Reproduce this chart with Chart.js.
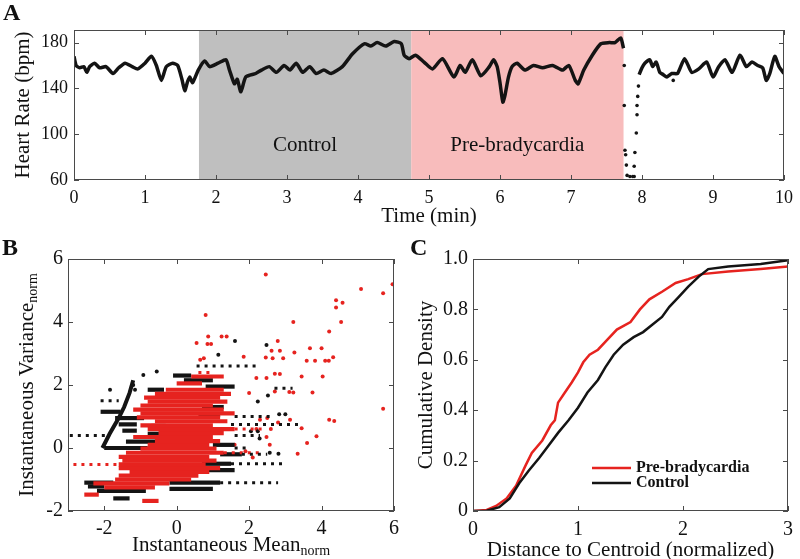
<!DOCTYPE html>
<html>
<head>
<meta charset="utf-8">
<script src="https://cdn.jsdelivr.net/npm/chart.js@4/dist/chart.umd.min.js"></script>
<style>
  body { margin: 0; background: #fff; }
  #wrap { position: relative; width: 800px; height: 559px; overflow: hidden; font-family: "Liberation Serif", serif; }
  canvas { position: absolute; }
  .tag { position: absolute; font: bold 24px/1 "Liberation Serif", serif; color: #111; }
</style>
</head>
<body>
<div id="wrap">
  <canvas id="hr-chart" style="left:0px;top:0px" width="800" height="230"></canvas>
  <canvas id="scatter-chart" style="left:0px;top:235px" width="405" height="324"></canvas>
  <canvas id="cdf-chart" style="left:400px;top:235px" width="400" height="324"></canvas>
  <div class="tag" style="left:3px;top:0px">A</div>
  <div class="tag" style="left:2px;top:235px">B</div>
  <div class="tag" style="left:410px;top:235px">C</div>
</div>
<script>
// ---- panel A: heart rate over time
const hrTime = [0.00, 0.03, 0.08, 0.14, 0.18, 0.22, 0.29, 0.36, 0.45, 0.55, 0.63, 0.72, 0.82, 0.90, 1.00,
  1.09, 1.16, 1.23, 1.30, 1.39, 1.46, 1.52, 1.56, 1.60, 1.63, 1.67, 1.75, 1.84, 1.91, 2.03, 2.14, 2.19,
  2.26, 2.30, 2.35, 2.42, 2.56, 2.64, 2.75, 2.85, 2.96, 3.04, 3.13, 3.22, 3.32, 3.41, 3.52, 3.62, 3.78,
  3.92, 4.09, 4.18, 4.27, 4.39, 4.51, 4.61, 4.65, 4.72, 4.81, 4.93, 5.05, 5.19, 5.35, 5.44, 5.51, 5.61,
  5.73, 5.85, 5.91, 5.96, 6.00, 6.04, 6.07, 6.12, 6.17, 6.24, 6.35, 6.47, 6.60, 6.74, 6.88, 6.97, 7.06,
  7.10, 7.18, 7.30, 7.42, 7.54, 7.62, 7.70, 7.74]
const hrBpm = [168, 160, 158, 159, 154, 159, 162, 158, 159, 153, 158, 162, 159, 157, 162,
  168, 160, 147, 159, 162, 160, 148, 138, 146, 150, 145, 156, 164, 159, 162, 165, 156,
  144, 148, 137, 150, 153, 156, 159, 154, 160, 156, 162, 154, 159, 153, 156, 153, 159,
  170, 179, 177, 180, 177, 181, 179, 169, 166, 169, 163, 157, 166, 150, 160, 154, 165,
  151, 159, 165, 159, 145, 128, 134, 150, 159, 162, 156, 160, 158, 160, 156, 160, 147,
  144, 156, 169, 179, 180, 180, 184, 175]
const hrTimeAfter = [7.96, 8.00, 8.04, 8.11, 8.15, 8.20, 8.25, 8.30, 8.35, 8.42, 8.50, 8.60, 8.70, 8.80,
  8.91, 9.00, 9.08, 9.17, 9.27, 9.38, 9.47, 9.55, 9.63, 9.70, 9.75, 9.80, 9.87, 9.93, 10.00]
const hrBpmAfter = [152, 158, 162, 165, 159, 163, 154, 152, 150, 153, 153, 166, 154, 157,
  163, 150, 159, 165, 154, 169, 159, 163, 160, 158, 147, 153, 168, 159, 153]
const dropTime = [7.75, 7.75, 7.76, 7.77, 7.78, 7.79, 7.83, 7.87, 7.89, 7.89, 7.90, 7.92, 7.93, 7.93, 7.94, 7.95, 8.44]
const dropBpm = [160, 125, 86, 82, 73, 64, 63, 63, 63, 72, 84, 101, 117, 125, 133, 142, 147]
const regionStart = [1.76, 4.75]
const regionEnd = [4.75, 7.74]
const regionNames = ['Control', 'Pre-bradycardia']
const hrTicksX = [0, 1, 2, 3, 4, 5, 6, 7, 8, 9, 10]
const hrTicksY = [60, 100, 140, 180]

// ---- panel B: instantaneous mean vs variance, streaks as [y, xFrom, xTo]
const redRows = [[1.85, -0.3, 1.3], [1.72, -0.6, 1.5], [1.6, -0.9, 1.2], [1.47, -0.8, 1.4], [1.35, -1.0, 1.0],
  [1.22, -1.2, 1.3], [1.1, -1.0, 1.6], [0.97, -1.1, 1.2], [0.85, -0.6, 1.4], [0.72, -1.0, 1.0],
  [0.6, -0.8, 1.6], [0.47, -0.5, 1.3], [0.35, -1.2, 1.0], [0.22, -0.6, 1.2], [0.1, -0.8, 0.9],
  [-0.02, -1.0, 1.1], [-0.15, -1.4, 1.3], [-0.28, -1.6, 0.9], [-0.4, -1.5, 1.1], [-0.52, -1.6, 0.8],
  [-0.64, -1.6, 1.2], [-0.76, -1.3, 0.9], [-0.88, -1.6, 0.6], [-1.0, -1.7, 0.4], [-1.12, -2.3, -0.2],
  [-1.25, -2.0, -0.6], [-1.48, -2.55, -2.15], [-1.68, -0.95, -0.5], [2.05, 0.0, 0.7], [2.27, 0.4, 1.3]]
const redDotRows = [[-0.52, -2.85, -1.6], [2.4, 0.6, 1.0], [0.6, 1.6, 2.4], [-0.15, 1.3, 2.3]]
const blackRows = [[0.0, -2.0, -0.8], [0.2, -1.4, -0.5], [0.45, -0.8, -0.2], [0.7, -0.7, -0.3],
  [0.95, -1.7, -0.9], [1.15, -2.1, -1.55], [0.75, -1.6, -1.1], [0.55, -1.5, -1.1], [1.05, 0.6, 1.2],
  [1.3, 0.7, 1.3], [1.85, -0.8, -0.35], [1.95, 0.8, 1.6], [2.3, -0.1, 0.4], [2.15, 0.2, 1.0],
  [-1.1, -2.55, -1.75], [-1.22, -2.45, -2.0], [-1.36, -2.2, -0.85], [-1.6, -1.75, -1.3],
  [-1.1, -0.2, 1.2], [-1.3, -0.2, 1.0], [-0.5, 0.7, 1.5], [-0.7, 0.6, 1.6], [-0.2, 1.2, 1.8], [0.1, 1.0, 1.6]]
const blackDotRows = [[0.4, -2.95, -1.85], [2.6, 0.55, 2.3], [-0.5, 1.5, 2.95], [-1.1, 1.2, 2.8],
  [0.75, 1.5, 3.4], [1.0, 1.6, 2.6], [1.9, 2.7, 3.2], [-0.2, 1.8, 2.5], [0.4, 1.6, 2.3],
  [1.5, -2.1, -1.6], [0.0, 1.6, 2.0]]
const ridgeX = [-2.05, -1.85, -1.6, -1.45, -1.3, -1.2]
const ridgeY = [0.0, 0.45, 0.95, 1.3, 1.75, 2.15]
const blackDots = [[1.61, 3.4], [1.15, 2.96], [2.48, 3.27], [-1.84, 1.85], [-0.92, 2.32], [-0.55, 2.43],
  [2.52, 1.67], [2.24, 1.48], [2.83, 1.07], [3.0, 1.07], [2.81, -0.18], [2.57, -0.15], [2.29, 0.3],
  [2.05, 0.53], [2.24, 0.53], [-1.2, 2.0], [-1.15, 1.85]]
const redDots = [[0.8, 4.22], [2.46, 5.51], [5.09, 5.05], [5.7, 4.91], [5.96, 5.2], [4.4, 4.69], [4.58, 4.61],
  [4.4, 4.46], [3.22, 4.0], [4.21, 3.7], [4.54, 4.0], [5.7, 1.25], [0.87, 3.54], [1.24, 3.54], [1.38, 3.54],
  [0.85, 3.3], [0.55, 3.33], [0.95, 3.3], [2.79, 3.4], [2.85, 3.09], [2.62, 3.09], [2.94, 2.85], [3.25, 3.03],
  [3.68, 3.17], [4.0, 3.17], [3.59, 2.77], [3.82, 2.77], [4.1, 2.77], [4.2, 2.77], [4.32, 2.88], [2.65, 2.85],
  [2.85, 2.35], [2.46, 2.87], [3.45, 2.27], [4.03, 2.27], [3.22, 1.76], [3.75, 1.76], [2.2, 2.22], [2.48, 2.22],
  [3.13, 0.9], [3.45, 0.63], [3.86, 0.37], [3.6, 0.16], [3.34, -0.18], [4.21, 0.9], [4.35, 0.86], [2.2, 0.6],
  [2.48, 0.35], [2.8, 0.81], [1.6, 0.1], [0.65, 2.8], [0.75, 2.85], [1.85, 2.9], [2.0, 1.75], [2.3, 0.9],
  [2.6, 0.6], [1.9, -0.1], [2.1, -0.3], [2.5, 0.95], [2.71, 1.79], [3.11, 1.78], [2.71, 2.36], [2.57, 0.1]]
const scatterTicksX = [-2, 0, 2, 4, 6]
const scatterTicksY = [-2, 0, 2, 4, 6]

// ---- panel C: cumulative density of distance to centroid
const preX = [0, 0.13, 0.22, 0.32, 0.41, 0.5, 0.56, 0.66, 0.74, 0.78, 0.81, 0.875, 0.94, 1.0, 1.05, 1.11,
  1.19, 1.28, 1.37, 1.5, 1.59, 1.68, 1.8, 1.93, 2.05, 2.18, 2.43, 2.74, 3.0]
const preY = [0, 0.004, 0.02, 0.05, 0.10, 0.18, 0.23, 0.28, 0.34, 0.36, 0.43, 0.47, 0.51, 0.55, 0.59, 0.62,
  0.64, 0.68, 0.72, 0.75, 0.80, 0.84, 0.87, 0.905, 0.92, 0.94, 0.95, 0.96, 0.97]
const ctlX = [0, 0.13, 0.25, 0.35, 0.44, 0.53, 0.63, 0.72, 0.81, 0.91, 1.0, 1.09, 1.19, 1.26, 1.34, 1.43,
  1.53, 1.62, 1.71, 1.8, 1.87, 1.96, 2.05, 2.15, 2.24, 2.43, 2.74, 3.0]
const ctlY = [0, 0.001, 0.015, 0.05, 0.11, 0.16, 0.21, 0.26, 0.31, 0.36, 0.41, 0.47, 0.52, 0.57, 0.62, 0.66,
  0.69, 0.71, 0.74, 0.77, 0.81, 0.85, 0.89, 0.93, 0.96, 0.97, 0.98, 0.995]
const cdfTicksX = [0, 1, 2, 3]
const cdfTicksY = [0, 0.2, 0.4, 0.6, 0.8, 1.0]

const SERIF = '"Liberation Serif", serif'
const RED = '#e6231f'
const BLACK = '#141414'

const zip = (xs, ys) => xs.map((x, i) => ({ x, y: ys[i] }))

// box round the plot with short inward ticks on all four sides
const frame = {
  id: 'frame',
  afterDatasetsDraw(chart) {
    const { ctx, chartArea: a, scales: { x, y } } = chart
    ctx.save()
    ctx.strokeStyle = '#4a4a4a'
    ctx.lineWidth = 1
    ctx.strokeRect(a.left + 0.5, a.top + 0.5, a.width - 1, a.height - 1)
    ctx.beginPath()
    x.ticks.forEach(t => {
      const px = Math.round(x.getPixelForValue(t.value)) + 0.5
      ctx.moveTo(px, a.bottom); ctx.lineTo(px, a.bottom - 5)
      ctx.moveTo(px, a.top); ctx.lineTo(px, a.top + 5)
    })
    y.ticks.forEach(t => {
      const py = Math.round(y.getPixelForValue(t.value)) + 0.5
      ctx.moveTo(a.left, py); ctx.lineTo(a.left + 5, py)
      ctx.moveTo(a.right, py); ctx.lineTo(a.right - 5, py)
    })
    ctx.stroke()
    ctx.restore()
  }
}

function drawLabel(ctx, text, sub, cx, cy, rot) {
  ctx.save()
  ctx.translate(cx, cy)
  ctx.rotate(rot)
  ctx.font = '21px ' + SERIF
  const w1 = ctx.measureText(text).width
  ctx.font = '14px ' + SERIF
  const w2 = sub ? ctx.measureText(sub).width : 0
  const left = -(w1 + w2) / 2
  ctx.fillStyle = '#111'
  ctx.textAlign = 'left'
  ctx.textBaseline = 'middle'
  ctx.font = '21px ' + SERIF
  ctx.fillText(text, left, 0)
  if (sub) {
    ctx.font = '14px ' + SERIF
    ctx.fillText(sub, left + w1, 6)
  }
  ctx.restore()
}

// axis titles (canvas titles cannot do subscripts)
const titles = {
  id: 'titles',
  afterDraw(chart, args, o) {
    const { ctx, chartArea: a } = chart
    drawLabel(ctx, o.x, o.xSub, (a.left + a.right) / 2, a.bottom + o.xGap, 0)
    drawLabel(ctx, o.y, o.ySub, a.left - o.yGap, (a.top + a.bottom) / 2, -Math.PI / 2)
  }
}

const regionColors = ['#bfbfbf', '#f8bcbc']
const shading = {
  id: 'shading',
  beforeDatasetsDraw(chart) {
    const { ctx, chartArea: a, scales: { x, y } } = chart
    ctx.save()
    regionStart.forEach((s, i) => {
      const x0 = x.getPixelForValue(s)
      const x1 = x.getPixelForValue(regionEnd[i])
      ctx.fillStyle = regionColors[i]
      ctx.fillRect(x0, a.top, x1 - x0, a.height)
      ctx.fillStyle = '#111'
      ctx.font = '21px ' + SERIF
      ctx.textAlign = 'center'
      ctx.textBaseline = 'middle'
      ctx.fillText(regionNames[i], (x0 + x1) / 2, y.getPixelForValue(90))
    })
    ctx.restore()
  }
}

const cdfLegend = {
  id: 'cdfLegend',
  afterDatasetsDraw(chart) {
    const { ctx, chartArea: a } = chart
    const items = chart.data.datasets.slice().reverse()
    ctx.save()
    ctx.font = 'bold 16px ' + SERIF
    ctx.textBaseline = 'middle'
    items.forEach((ds, i) => {
      const yy = a.top + 209 + i * 15
      ctx.strokeStyle = ds.borderColor
      ctx.lineWidth = 2.5
      ctx.beginPath()
      ctx.moveTo(a.left + 119, yy); ctx.lineTo(a.left + 158, yy)
      ctx.stroke()
      ctx.fillStyle = '#111'
      ctx.fillText(ds.label, a.left + 163, yy)
    })
    ctx.restore()
  }
}

function axis(min, max, ticks, size, pad, fit, fmt) {
  return {
    type: 'linear', min, max,
    afterBuildTicks: s => { s.ticks = ticks.map(v => ({ value: v })) },
    afterFit: fit,
    grid: { display: false, drawTicks: false },
    border: { display: false },
    ticks: { color: '#111', padding: pad, font: { family: SERIF, size }, maxRotation: 0, autoSkip: false,
      callback: fmt || (v => String(v)) }
  }
}

Chart.defaults.animation = false
Chart.defaults.responsive = false

new Chart(document.getElementById('hr-chart'), {
  type: 'scatter',
  data: {
    datasets: [
      { data: zip(hrTime, hrBpm), showLine: true, borderColor: BLACK, borderWidth: 3.5, pointRadius: 0, tension: 0.2 },
      { data: zip(hrTimeAfter, hrBpmAfter), showLine: true, borderColor: BLACK, borderWidth: 3.5, pointRadius: 0, tension: 0.2 },
      { data: zip(dropTime, dropBpm), backgroundColor: BLACK, borderWidth: 0, pointRadius: 1.8 }
    ]
  },
  options: {
    layout: { padding: { left: 0, right: 14, top: 30, bottom: 0 } },
    plugins: { legend: { display: false }, tooltip: { enabled: false },
      titles: { x: 'Time (min)', y: 'Heart Rate (bpm)', xGap: 36, yGap: 51 } },
    scales: {
      x: axis(0, 10, hrTicksX, 18, 7, s => { s.height = 50 }),
      y: axis(60, 191, hrTicksY, 18, 6, s => { s.width = 74 })
    }
  },
  plugins: [shading, frame, titles]
})

const rowSet = (rows, color, dotted) => rows.map(r => ({
  data: [{ x: r[1], y: r[0] }, { x: r[2], y: r[0] }],
  showLine: true, borderColor: color, borderWidth: dotted ? 3 : 4.2, pointRadius: 0,
  borderDash: dotted ? [3, 5] : []
}))

new Chart(document.getElementById('scatter-chart'), {
  type: 'scatter',
  data: {
    datasets: [
      ...rowSet(blackDotRows, BLACK, true),
      { data: zip(ridgeX, ridgeY), showLine: true, borderColor: BLACK, borderWidth: 4, pointRadius: 0 },
      ...rowSet(redRows, RED, false),
      ...rowSet(redDotRows, RED, true),
      ...rowSet(blackRows, BLACK, false),
      { data: blackDots.map(p => ({ x: p[0], y: p[1] })), backgroundColor: BLACK, borderWidth: 0, pointRadius: 2 },
      { data: redDots.map(p => ({ x: p[0], y: p[1] })), backgroundColor: RED, borderWidth: 0, pointRadius: 2 }
    ]
  },
  options: {
    layout: { padding: { left: 0, right: 10, top: 24, bottom: 0 } },
    plugins: { legend: { display: false }, tooltip: { enabled: false },
      titles: { x: 'Instantaneous Mean', xSub: 'norm', y: 'Instantaneous Variance', ySub: 'norm', xGap: 34, yGap: 41 } },
    scales: {
      x: axis(-3, 6, scatterTicksX, 20, 6, s => { s.height = 48 }),
      y: axis(-2, 6, scatterTicksY, 20, 5, s => { s.width = 68 })
    }
  },
  plugins: [frame, titles]
})

new Chart(document.getElementById('cdf-chart'), {
  type: 'scatter',
  data: {
    datasets: [
      { label: 'Control', data: zip(ctlX, ctlY), showLine: true, borderColor: BLACK, borderWidth: 2.5, pointRadius: 0 },
      { label: 'Pre-bradycardia', data: zip(preX, preY), showLine: true, borderColor: RED, borderWidth: 2.5, pointRadius: 0 }
    ]
  },
  options: {
    layout: { padding: { left: 0, right: 5, top: 24, bottom: 0 } },
    plugins: { legend: { display: false }, tooltip: { enabled: false },
      titles: { x: 'Distance to Centroid (normalized)', y: 'Cumulative Density', xGap: 39, yGap: 47 } },
    scales: {
      x: axis(0, 3, cdfTicksX, 20, 7, s => { s.height = 48 }),
      y: axis(0, 1, cdfTicksY, 20, 5, s => { s.width = 73 }, v => v === 0 ? '0' : v.toFixed(1))
    }
  },
  plugins: [frame, titles, cdfLegend]
})
</script>
</body>
</html>
